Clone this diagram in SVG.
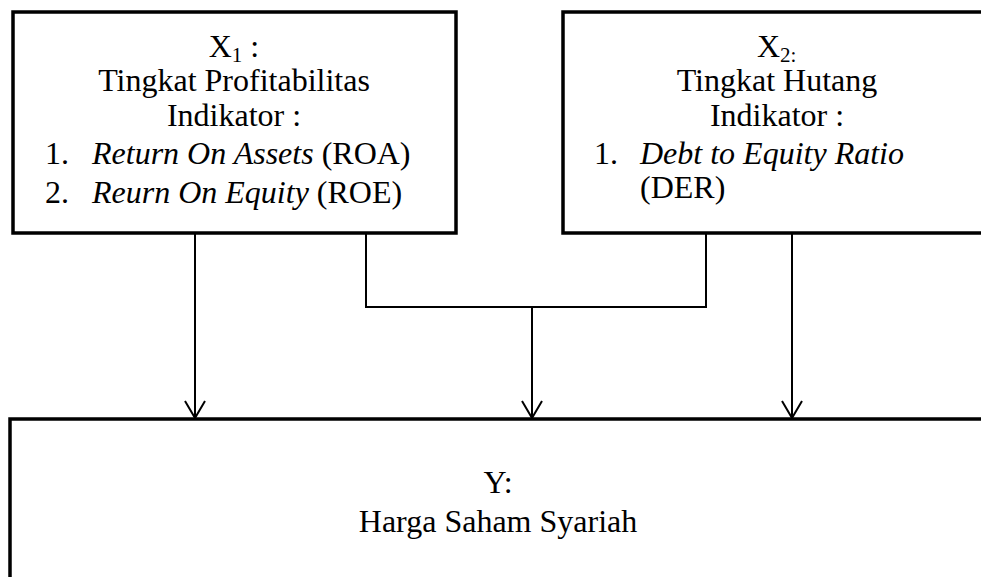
<svg xmlns="http://www.w3.org/2000/svg" width="981" height="577" viewBox="0 0 981 577">
<defs>
<style>
.box{fill:#fff;stroke:#000;stroke-width:3.5}
.t{font-family:'Liberation Serif','Times New Roman',Tinos,'DejaVu Serif',serif;font-size:32px;fill:#000}
.c{text-anchor:middle}
.i{font-style:italic}
.sub{font-size:21px}
.con{fill:none;stroke:#000;stroke-width:2}
</style>
<marker id="arr" markerUnits="userSpaceOnUse" markerWidth="20" markerHeight="24" refX="18" refY="11" orient="auto" viewBox="0 0 20 22">
<path d="M1,1 L18,11 L1,21" fill="none" stroke="#000" stroke-width="2"/>
</marker>
</defs>
<rect width="981" height="577" fill="#fff"/>
<g id="node-x1">
<rect class="box" x="13" y="12" width="443" height="221"/>
<text class="t c" x="234" y="57" font-family="Liberation Serif, serif">X<tspan class="sub" dy="5">1</tspan><tspan dy="-5"> :</tspan></text>
<text class="t c" x="234" y="91" font-family="Liberation Serif, serif">Tingkat Profitabilitas</text>
<text class="t c" x="234" y="126" font-family="Liberation Serif, serif">Indikator :</text>
<text class="t" x="45" y="164" font-family="Liberation Serif, serif">1.<tspan class="i" x="92">Return On Assets</tspan> (ROA)</text>
<text class="t" x="45" y="203" font-family="Liberation Serif, serif">2.<tspan class="i" x="92">Reurn On Equity</tspan> (ROE)</text>
</g>
<g id="node-x2">
<rect class="box" x="563" y="12" width="440" height="221"/>
<text class="t" x="757" y="57" font-family="Liberation Serif, serif">X<tspan class="sub" dy="5">2:</tspan></text>
<text class="t c" x="777" y="91" font-family="Liberation Serif, serif">Tingkat Hutang</text>
<text class="t c" x="777" y="126" font-family="Liberation Serif, serif">Indikator :</text>
<text class="t" x="594" y="164" font-family="Liberation Serif, serif">1.<tspan class="i" x="640">Debt to Equity Ratio</tspan></text>
<text class="t" x="640" y="198" font-family="Liberation Serif, serif">(DER)</text>
</g>
<g id="node-y">
<rect class="box" x="10" y="419" width="985" height="180"/>
<text class="t c" x="498" y="493" font-family="Liberation Serif, serif">Y:</text>
<text class="t c" x="498" y="532" font-family="Liberation Serif, serif">Harga Saham Syariah</text>
</g>
<g id="connectors">
<line class="con" x1="195" y1="234" x2="195" y2="418" marker-end="url(#arr)"/>
<polyline class="con" points="366,234 366,307 706,307 706,232"/>
<line class="con" x1="532" y1="307" x2="532" y2="418" marker-end="url(#arr)"/>
<line class="con" x1="792" y1="234" x2="792" y2="418" marker-end="url(#arr)"/>
</g>
</svg>
